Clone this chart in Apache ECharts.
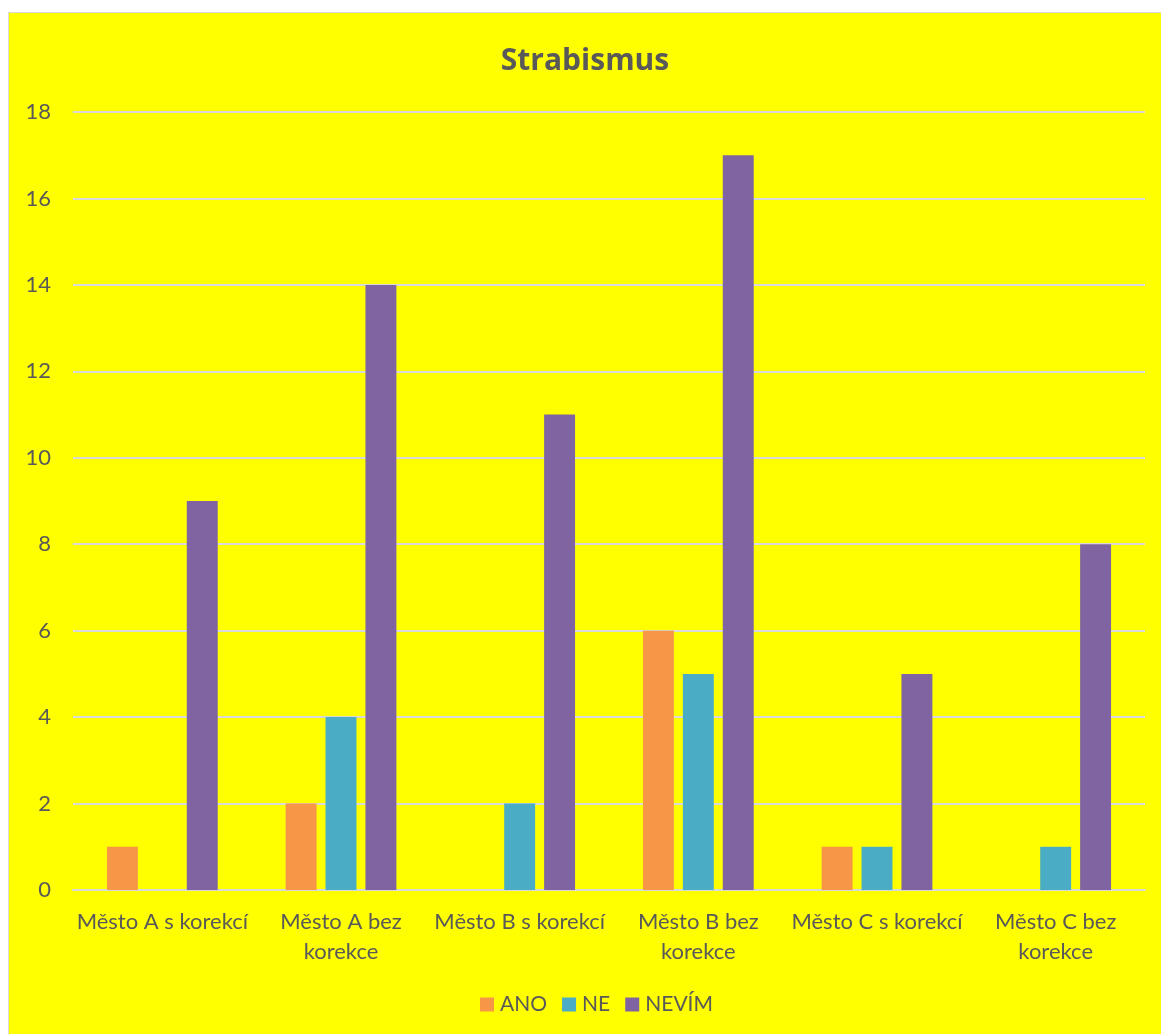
<!DOCTYPE html>
<html>
<head>
<meta charset="utf-8">
<script src="https://cdn.jsdelivr.net/npm/echarts@6/dist/echarts.min.js"></script>
<style>
  html, body { margin: 0; padding: 0; background: #fff; }
  #frame {
    position: absolute; left: 8px; top: 12px;
    width: 1152px; height: 1021px;
    background: #ffff00;
    border-left: 1px solid #d9d9d9; border-top: 1px solid #d9d9d9;
  }
  #chart { width: 1152px; height: 1021px; }
</style>
</head>
<body>
<div id="frame"><div id="chart"></div></div>
<script>
// kategorie a hodnoty
var categories = ['Město A s korekcí', 'Město A bez korekce', 'Město B s korekcí', 'Město B bez korekce', 'Město C s korekcí', 'Město C bez korekce'];
var ano = [1, 2, 0, 6, 1, 0];
var ne = [0, 4, 2, 5, 1, 1];
var nevim = [9, 14, 11, 17, 5, 8];

var textColor = '#595959';
var font = 'Lato';

var chart = echarts.init(document.getElementById('chart'));
chart.setOption({
  backgroundColor: 'transparent',
  color: ['#f79646', '#4bacc6', '#8064a2'],
  title: {
    text: 'Strabismus',
    left: 'center',
    top: 28,
    textStyle: { color: textColor, fontSize: 30, fontWeight: 'bold', fontFamily: 'Open Sans' }
  },
  legend: {
    bottom: 14,
    left: 466,
    itemWidth: 14,
    itemHeight: 14,
    itemGap: 15,
    icon: 'rect',
    textStyle: { color: textColor, fontSize: 21, fontFamily: font, padding: [0, 0, 0, 1] },
    data: ['ANO', 'NE', 'NEVÍM']
  },
  grid: { left: 64, right: 16, top: 99, bottom: 144 },
  xAxis: {
    type: 'category',
    data: categories,
    axisLine: { lineStyle: { color: '#d9d9d9', width: 2 } },
    axisTick: { show: false },
    axisLabel: {
      color: textColor, fontSize: 22, fontFamily: font,
      interval: 0, margin: 17, lineHeight: 30,
      // dlouhé popisky se lámou za "bez"
      formatter: function (v) { return v.replace(' bez ', ' bez\n'); }
    }
  },
  yAxis: {
    type: 'value',
    min: 0, max: 18, interval: 2,
    axisLine: { show: false },
    axisTick: { show: false },
    splitLine: { lineStyle: { color: '#d9d9d9', width: 2 } },
    axisLabel: { color: textColor, fontSize: 22, fontFamily: font, margin: 22 }
  },
  series: [
    { name: 'ANO', type: 'bar', data: ano, barGap: '29%', barCategoryGap: '38%' },
    { name: 'NE', type: 'bar', data: ne, barGap: '29%', barCategoryGap: '38%' },
    { name: 'NEVÍM', type: 'bar', data: nevim, barGap: '29%', barCategoryGap: '38%' }
  ]
});
</script>
</body>
</html>
